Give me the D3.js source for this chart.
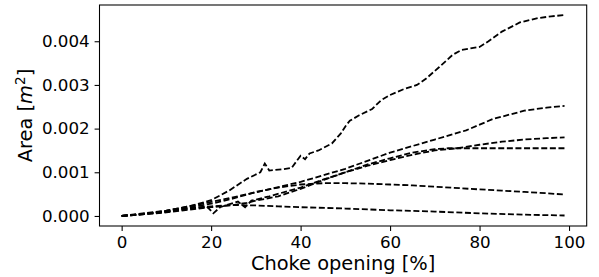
<!DOCTYPE html>
<html><head><meta charset="utf-8">
<script src="https://cdn.jsdelivr.net/npm/d3@7"></script>
<style>body{margin:0;background:#fff}text{font-family:"DejaVu Sans",sans-serif;fill:#000}</style>
</head><body>
<svg id="c" width="599" height="277"></svg>
<script>
const xTicks = [0, 20, 40, 60, 80, 100];
const yTicks = [0, 0.001, 0.002, 0.003, 0.004];
const xLabel = "Choke opening [%]";

const aX = [0,5,10,15,20,24,28,31,32,33,36,38,40,41,42,44,47,49,50,51,53,56,58,60,63,66,68,71,74,76,80,82,85,89,93,96,99];
const aY = [0,0.00004,0.00012,0.00022,0.00036,0.00058,0.00085,0.001,0.0012,0.00104,0.00107,0.0011,0.00138,0.0013,0.00143,0.0015,0.00166,0.00189,0.00205,0.00218,0.0023,0.00245,0.00265,0.00277,0.0029,0.003,0.00314,0.00341,0.00369,0.0038,0.00387,0.004,0.00422,0.00443,0.00453,0.00457,0.0046];
const bX = [0,10,20,30,40,50,60,70,77,83,90,95,99];
const bY = [0,0.00012,0.00032,0.00054,0.00078,0.00108,0.00145,0.00175,0.00196,0.00222,0.00241,0.00248,0.00252];
const cX = [0,10,20,25,28,30,35,40,45,50,55,60,65,70,75,80,85,90,95,99];
const cY = [0,0.00008,0.0002,0.00025,0.0003,0.00035,0.00045,0.00062,0.00082,0.001,0.00115,0.00128,0.0014,0.0015,0.00155,0.00163,0.0017,0.00175,0.00178,0.0018];
const dX = [0,5,10,15,19,20.5,22,26,27.6,29,33,40,45,50,55,60,65,70,73,80,99];
const dY = [0,0.00004,0.0001,0.00017,0.00022,0.00006,0.0002,0.00033,0.0002,0.00035,0.00045,0.00065,0.00083,0.001,0.00118,0.00132,0.00145,0.00153,0.00155,0.00155,0.00155];
const eX = [0,10,20,25,30,35,40,45,50,55,60,65,70,78,85,90,95,99];
const eY = [0,0.0001,0.00028,0.0004,0.00055,0.00065,0.00072,0.00075,0.00075,0.00074,0.00072,0.0007,0.00067,0.00062,0.00058,0.00055,0.00052,0.00049];
const fX = [0,10,15,20,25,30,35,40,50,60,70,80,90,99];
const fY = [0,0.0001,0.00017,0.00022,0.00025,0.00024,0.00022,0.0002,0.00017,0.00013,0.0001,0.00006,0.00003,0.00001];

const series = [[aX,aY],[bX,bY],[cX,cY],[dX,dY],[eX,eY],[fX,fY]];

const L = 99.5, R = 586.7, T = 5, B = 226;
const x = d3.scaleLinear().domain([-4.95, 103.95]).range([L, R]);
const y = d3.scaleLinear().domain([-0.00023, 0.00483]).range([B, T]);
const svg = d3.select("#c");

const line = d3.line().x(d => x(d[0])).y(d => y(d[1]));
const g = svg.append("g");
series.forEach(([xs, ys]) => {
  g.append("path").datum(xs.map((v, i) => [v, ys[i]]))
    .attr("d", line).attr("fill", "none").attr("stroke", "#000")
    .attr("stroke-width", 1.8).attr("stroke-dasharray", "6,2.6");
});

const xAxis = svg.append("g").attr("transform", `translate(0,${B})`)
  .call(d3.axisBottom(x).tickValues(xTicks).tickSize(4.9).tickPadding(4.9).tickFormat(d3.format("d")));
const yAxis = svg.append("g").attr("transform", `translate(${L},0)`)
  .call(d3.axisLeft(y).tickValues(yTicks).tickSize(4.9).tickPadding(4.9).tickFormat(d3.format(".3f")));
[xAxis, yAxis].forEach(a => {
  a.select(".domain").remove();
  a.selectAll("line").attr("stroke", "#000").attr("stroke-width", 1.07);
  a.selectAll("text").style("font-size", "16.7px").style("font-family", "DejaVu Sans").attr("fill", "#000");
});

svg.append("rect").attr("x", L).attr("y", T).attr("width", R - L).attr("height", B - T)
  .attr("fill", "none").attr("stroke", "#000").attr("stroke-width", 1.07);

svg.append("text").attr("x", (L + R) / 2).attr("y", 270).attr("text-anchor", "middle")
  .style("font-size", "19.4px").text(xLabel);

const yl = svg.append("text").attr("transform", `translate(32,${(T + B) / 2}) rotate(-90)`)
  .attr("text-anchor", "middle").style("font-size", "19.4px");
yl.append("tspan").text("Area [");
yl.append("tspan").style("font-style", "italic").text("m");
yl.append("tspan").attr("dy", -7).style("font-size", "13.6px").text("2");
yl.append("tspan").attr("dy", 7).text("]");
</script>
</body></html>
